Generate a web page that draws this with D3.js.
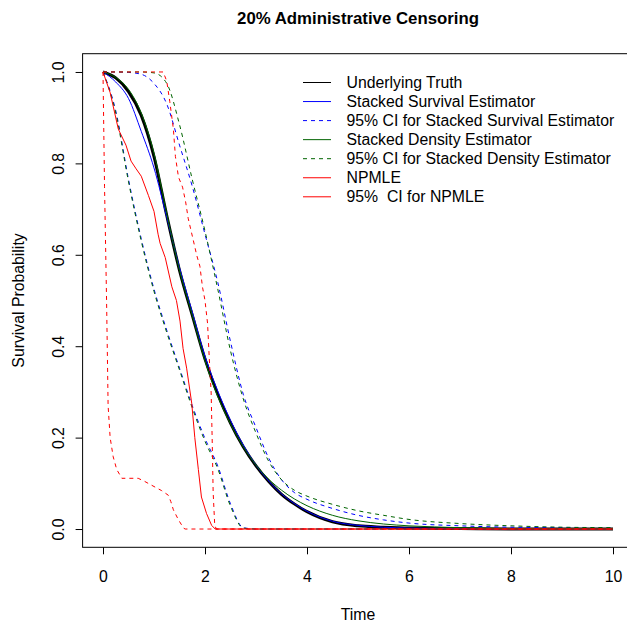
<!DOCTYPE html>
<html>
<head>
<meta charset="utf-8">
<script src="https://cdn.jsdelivr.net/npm/d3@7"></script>
<style>
  html, body { margin: 0; padding: 0; background: #fff; }
  svg { display: block; font-family: "Liberation Sans", Arial, Helvetica, sans-serif; }
  text { white-space: pre; }
</style>
</head>
<body>
<svg id="chart" width="627" height="625"></svg>
<script>
// ---------------- data ----------------
const timeGrid = [0, 0.25, 0.5, 0.75, 1, 1.25, 1.5, 1.75, 2, 2.25, 2.5, 2.75, 3, 3.25, 3.5, 3.75, 4, 4.5, 5, 5.5, 6, 7, 8, 9, 10];

const truthSurv = [1.000, 0.987, 0.957, 0.905, 0.815, 0.686, 0.566, 0.468, 0.372, 0.295, 0.232, 0.180, 0.138, 0.104, 0.076, 0.055, 0.038, 0.016, 0.007, 0.004, 0.002, 0.001, 0.000, 0.000, 0.000];
const stackedSurv = [1.000, 0.978, 0.942, 0.870, 0.790, 0.682, 0.572, 0.475, 0.378, 0.302, 0.238, 0.184, 0.140, 0.105, 0.077, 0.056, 0.039, 0.017, 0.008, 0.004, 0.002, 0.001, 0.000, 0.000, 0.000];
const stackedSurvLower = [1.000, 0.915, 0.765, 0.635, 0.525, 0.435, 0.352, 0.270, 0.198, 0.138, 0.055, 0.003, 0, 0, 0, 0, 0, 0, 0, 0, 0, 0, 0, 0, 0];
const stackedSurvUpper = [1.000, 1.000, 0.999, 0.995, 0.975, 0.930, 0.840, 0.750, 0.645, 0.540, 0.410, 0.295, 0.222, 0.155, 0.108, 0.080, 0.065, 0.045, 0.030, 0.020, 0.013, 0.007, 0.004, 0.003, 0.002];
const stackedDens = [1.000, 0.988, 0.962, 0.910, 0.822, 0.690, 0.566, 0.468, 0.368, 0.290, 0.230, 0.180, 0.140, 0.109, 0.085, 0.066, 0.051, 0.030, 0.018, 0.011, 0.007, 0.003, 0.001, 0.0005, 0.0003];
const stackedDensLower = [1.000, 0.910, 0.760, 0.630, 0.520, 0.430, 0.348, 0.265, 0.192, 0.132, 0.050, 0.002, 0, 0, 0, 0, 0, 0, 0, 0, 0, 0, 0, 0, 0];
const stackedDensUpper = [1.000, 1.000, 1.000, 1.000, 0.998, 0.975, 0.885, 0.765, 0.652, 0.525, 0.390, 0.285, 0.210, 0.148, 0.108, 0.085, 0.072, 0.054, 0.040, 0.030, 0.021, 0.012, 0.007, 0.004, 0.003];

const npmleTime = [0, 0.14, 0.3, 0.45, 0.55, 0.65, 0.75, 0.89, 1.0, 1.08, 1.12, 1.22, 1.35, 1.44, 1.51, 1.57, 1.64, 1.74, 1.80, 1.87, 1.93, 2.03, 2.13, 2.2, 10];
const npmleSurv = [1, 0.955, 0.875, 0.84, 0.805, 0.788, 0.772, 0.73, 0.695, 0.645, 0.625, 0.594, 0.53, 0.5, 0.455, 0.395, 0.352, 0.275, 0.2, 0.13, 0.07, 0.034, 0.008, 0, 0];
const npmleUpperTime = [0, 1.18, 1.25, 1.31, 1.38, 1.42, 1.48, 1.56, 1.62, 1.67, 1.77, 1.84, 1.9, 1.95, 2.0, 2.05, 2.09, 2.12, 2.14, 2.16, 2.19, 2.22, 10];
const npmleUpper = [1, 1, 0.98, 0.935, 0.875, 0.815, 0.77, 0.748, 0.716, 0.68, 0.632, 0.598, 0.575, 0.53, 0.5, 0.45, 0.36, 0.3, 0.2, 0.08, 0.01, 0, 0];
const npmleLowerTime = [0, 0.03, 0.07, 0.09, 0.1, 0.14, 0.2, 0.27, 0.37, 0.69, 0.82, 0.95, 1.15, 1.28, 1.33, 1.38, 1.48, 1.58, 1.61, 10];
const npmleLower = [1, 0.75, 0.5, 0.35, 0.27, 0.2, 0.158, 0.13, 0.111, 0.111, 0.104, 0.096, 0.084, 0.074, 0.06, 0.042, 0.02, 0.002, 0, 0];

const xTicks = [0, 2, 4, 6, 8, 10];
const yTicks = [0, 0.2, 0.4, 0.6, 0.8, 1.0];
const legendLabels = ["Underlying Truth", "Stacked Survival Estimator", "95% CI for Stacked Survival Estimator",
  "Stacked Density Estimator", "95% CI for Stacked Density Estimator", "NPMLE", "95%  CI for NPMLE"];
const titleText = "20% Administrative Censoring";
const xLabel = "Time";
const yLabel = "Survival Probability";

// ---------------- layout ----------------
const svg = d3.select("#chart");
const plot = { left: 82.6, right: 633.4, top: 53.7, bottom: 547.3 };
const x = d3.scaleLinear().domain([-0.4, 10.4]).range([plot.left, plot.right]);
const y = d3.scaleLinear().domain([-0.04, 1.04]).range([plot.bottom, plot.top]);

const BLUE = "#0000FF", GREEN = "#006400", RED = "#FF0000", BLACK = "#000000";
const DASH = "4,4";
const FS = 15.8;

const series = [
  { t: timeGrid, s: truthSurv, color: BLACK, width: 3, dash: null, smooth: true },
  { t: timeGrid, s: stackedSurv, color: BLUE, width: 1, dash: null, smooth: true },
  { t: timeGrid, s: stackedSurvLower, color: BLUE, width: 1, dash: DASH, smooth: true },
  { t: timeGrid, s: stackedSurvUpper, color: BLUE, width: 1, dash: DASH, smooth: true },
  { t: timeGrid, s: stackedDens, color: GREEN, width: 1, dash: null, smooth: true },
  { t: timeGrid, s: stackedDensLower, color: GREEN, width: 1, dash: DASH, smooth: true },
  { t: timeGrid, s: stackedDensUpper, color: GREEN, width: 1, dash: DASH, smooth: true },
  { t: npmleTime, s: npmleSurv, color: RED, width: 1, dash: null, smooth: false },
  { t: npmleLowerTime, s: npmleLower, color: RED, width: 1, dash: DASH, smooth: false },
  { t: npmleUpperTime, s: npmleUpper, color: RED, width: 1, dash: DASH, smooth: false }
];

const gLines = svg.append("g");
series.forEach(sr => {
  const pts = sr.t.map((t, i) => [t, sr.s[i]]);
  const line = d3.line().x(d => x(d[0])).y(d => y(d[1]))
    .curve(sr.smooth ? d3.curveMonotoneX : d3.curveLinear);
  gLines.append("path")
    .attr("d", line(pts))
    .attr("fill", "none")
    .attr("stroke", sr.color)
    .attr("stroke-width", sr.width)
    .attr("stroke-linejoin", "round")
    .attr("stroke-dasharray", sr.dash);
});

// box
svg.append("rect")
  .attr("x", plot.left).attr("y", plot.top)
  .attr("width", plot.right - plot.left).attr("height", plot.bottom - plot.top)
  .attr("fill", "none").attr("stroke", "#000").attr("stroke-width", 1);

// x axis
const xAxis = svg.append("g")
  .attr("transform", `translate(0,${plot.bottom})`)
  .call(d3.axisBottom(x).tickValues(xTicks).tickSize(7).tickPadding(16.5).tickFormat(d3.format("d")));
xAxis.select(".domain").remove();
xAxis.selectAll("text").attr("font-size", FS).attr("font-family", null).attr("fill", "#000");
xAxis.selectAll("line").attr("stroke", "#000");

// y axis
const yAxis = svg.append("g")
  .attr("transform", `translate(${plot.left},0)`)
  .call(d3.axisLeft(y).tickValues(yTicks).tickSize(7).tickFormat(d3.format(".1f")));
yAxis.select(".domain").remove();
yAxis.selectAll("line").attr("stroke", "#000");
yAxis.selectAll("text")
  .attr("font-size", FS).attr("font-family", null).attr("fill", "#000")
  .attr("x", 0).attr("y", -24.6).attr("dy", "0.35em")
  .attr("text-anchor", "middle")
  .attr("transform", "rotate(-90)");

// titles
const cx = (plot.left + plot.right) / 2;
svg.append("text").attr("x", cx).attr("y", 24).attr("text-anchor", "middle")
  .attr("font-size", 16.8).attr("font-weight", "bold").text(titleText);
svg.append("text").attr("x", cx).attr("y", 619.5).attr("text-anchor", "middle")
  .attr("font-size", FS).text(xLabel);
svg.append("text").attr("transform", `translate(23.5,${(plot.top + plot.bottom) / 2}) rotate(-90)`)
  .attr("text-anchor", "middle").attr("font-size", FS).text(yLabel);

// legend
const legendStyles = [
  { color: BLACK, dash: null }, { color: BLUE, dash: null }, { color: BLUE, dash: DASH },
  { color: GREEN, dash: null }, { color: GREEN, dash: DASH }, { color: RED, dash: null }, { color: RED, dash: null }
];
const lg = svg.append("g");
legendLabels.forEach((lab, i) => {
  const yy = 82.5 + i * 19.05;
  lg.append("line").attr("x1", 303).attr("x2", 331).attr("y1", yy).attr("y2", yy)
    .attr("stroke", legendStyles[i].color).attr("stroke-width", 1)
    .attr("stroke-dasharray", legendStyles[i].dash);
  lg.append("text").attr("x", 346.5).attr("y", yy).attr("dy", "0.35em")
    .attr("font-size", FS).text(lab);
});
</script>
</body>
</html>
